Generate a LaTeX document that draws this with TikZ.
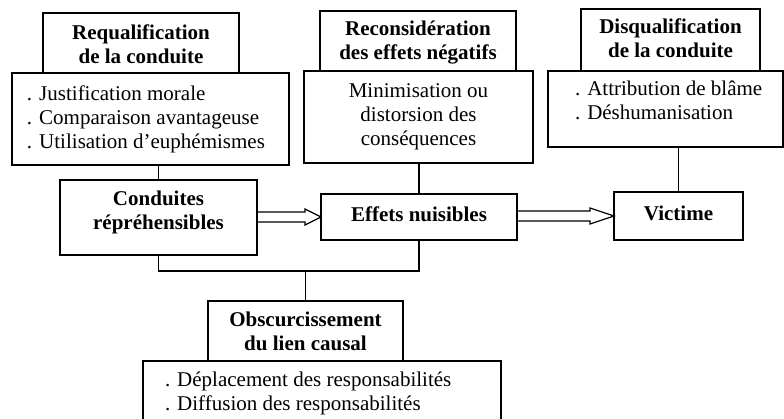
\documentclass[tikz,border=0pt]{standalone}
\usepackage{fontspec}
\setmainfont{Liberation Serif}
\usetikzlibrary{calc}
\tikzset{
  box/.style={draw, line width=1.2pt, inner sep=0pt, outer sep=0pt},
  txt/.style={inner sep=0pt, outer sep=0pt, font=\fontsize{21}{24}\selectfont},
  ttl/.style={txt, align=center, font=\bfseries\fontsize{21}{24}\selectfont},
  lst/.style={txt, align=left, anchor=west},
  ctr/.style={txt, align=center},
  link/.style={line width=1.2pt},
  harrow/.style={line width=1.2pt, line join=miter}
}
\newcommand\mkbox[5]{\node[box, minimum width={#4-#2}, minimum height={#5-#3}] (#1) at ({(#2+#4)/2},{(#3+#5)/2}) {};}
\newcommand\hollowarrow[3]{%
  \draw[harrow] ($(#1)+(0,-5)$) -- ($(#2)+(-#3,-5)$) -- ($(#2)+(-#3,-8)$) -- (#2)
    -- ($(#2)+(-#3,8)$) -- ($(#2)+(-#3,5)$) -- ($(#1)+(0,5)$);}
\begin{document}
\begin{tikzpicture}[x=1pt,y=-1pt]
\useasboundingbox (0,0) rectangle (784,419);
\clip (0,0) rectangle (784,419);
\fill[white] (0,0) rectangle (784,419);
% boxes
\mkbox{reqT}{43}{13}{239}{73}
\mkbox{reqC}{12}{73}{289}{165}
\mkbox{recT}{320}{11}{516}{71}
\mkbox{recC}{304}{71}{533}{163}
\mkbox{disT}{581}{9}{760}{71}
\mkbox{disC}{548}{71}{783}{147}
\mkbox{cond}{60}{180}{257}{255}
\mkbox{eff}{321}{194}{517}{240}
\mkbox{vic}{614}{192}{743}{240}
\mkbox{obsT}{208}{301}{403}{361}
\mkbox{obsC}{143}{361}{501}{425}
% texts
\node[ttl] (reqTt) at ($(reqT.center)+(0,1)$) {Requalification\\de la conduite};
\node[lst] (reqCt) at ($(reqC.west)+(15,0)$) {. Justification morale\\. Comparaison avantageuse\\. Utilisation d’euphémismes};
\node[ttl] (recTt) at ($(recT.center)+(0,1.5)$) {Reconsidération\\des effets négatifs};
\node[ctr] (recCt) at ($(recC.center)+(0,0)$) {Minimisation ou\\distorsion des\\conséquences};
\node[ttl] (disTt) at ($(disT.center)+(0,-2)$) {Disqualification\\de la conduite};
\node[lst] (disCt) at ($(disC.west)+(27,-9)$) {. Attribution de blâme\\. Déshumanisation};
\node[ttl] (condt) at ($(cond.center)+(0,-5)$) {Conduites\\répréhensibles};
\node[ttl] (efft) at ($(eff.center)+(0,-3)$) {Effets nuisibles};
\node[ttl] (vict) at ($(vic.center)+(0,-3)$) {Victime};
\node[ttl] (obsTt) at ($(obsT.center)+(0,0)$) {Obscurcissement\\du lien causal};
\node[lst] (obsCt) at ($(obsC.west)+(22,0)$) {. Déplacement des responsabilités\\. Diffusion des responsabilités};
% connectors
\draw[link] (reqC.south -| cond.north) -- (cond.north);
\draw[link] (recC.south -| eff.north) -- (eff.north);
\draw[link] (disC.south -| vic.north) -- (vic.north);
\coordinate (bar) at (305.5,271);
\draw[link] (cond.south) |- (bar) -| (eff.south);
\draw[link] (bar) -- (obsT.north);
% hollow double arrows
\coordinate (a1s) at (cond.east |- eff.west);
\hollowarrow{a1s}{eff.west}{16}
\coordinate (a2s) at (eff.east |- vic.west);
\hollowarrow{a2s}{vic.west}{24}
\end{tikzpicture}
\end{document}
